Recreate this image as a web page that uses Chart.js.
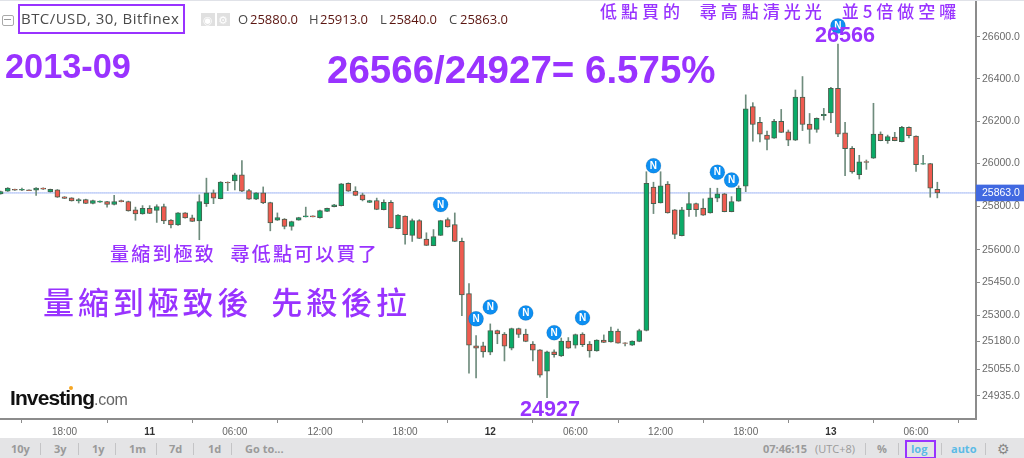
<!DOCTYPE html>
<html>
<head>
<meta charset="utf-8">
<title>BTC/USD, 30, Bitfinex</title>
<script src="https://cdn.jsdelivr.net/npm/chart.js@4/dist/chart.umd.min.js"></script>
<style>
  html, body { margin: 0; padding: 0; background: #fff; overflow: hidden; }
  #wrap { position: relative; width: 1024px; height: 458px; overflow: hidden; font-family: "Liberation Sans", sans-serif; }
  #chart { position: absolute; left: 0; top: 0; }
  .t { position: absolute; white-space: pre; line-height: 1; }
  .big { color: #9933ff; font-weight: bold; }
  .cjk { color: #9933ff; font-family: "Noto Sans CJK TC", sans-serif; font-weight: 500; word-spacing: 8px; }
  .head { font-family: "Open Sans", sans-serif; font-size: 13px; color: #4a4a4a; }
  .val { color: #5b1510; }
  .bar { position: absolute; left: 0; top: 438px; width: 1024px; height: 20px; background: #e4e4e6; }
  .btn { position: absolute; top: 5px; font: bold 11px "Open Sans", sans-serif; color: #9a9a9a; line-height: 1; white-space: pre; }
  .sep { position: absolute; top: 5px; width: 1px; height: 12px; background: #c4c4c6; }
</style>
</head>
<body>
<div id="wrap">
  <canvas id="chart" width="1024" height="458"></canvas>

  <!-- top strip and symbol header -->
  <div style="position:absolute;left:0;top:0;width:1024px;height:1px;background:#e0e2e8"></div>
  <div style="position:absolute;left:2px;top:15px;width:10px;height:9px;border:1px solid #aaa;border-radius:2px"></div>
  <div style="position:absolute;left:4px;top:19px;width:7px;height:1px;background:#999"></div>
  <div style="position:absolute;left:18px;top:4px;width:163px;height:26px;border:2px solid #9933ff"></div>
  <div class="t head" style="left:21px;top:11px;font-size:15px;letter-spacing:.45px">BTC/USD, 30, Bitfinex</div>
  <div style="position:absolute;left:201px;top:13px;width:14px;height:13px;background:#e0e0e0"></div>
  <div style="position:absolute;left:217px;top:13px;width:13px;height:13px;background:#e0e0e0"></div>
  <div class="t" style="left:203px;top:14px;font:11px 'DejaVu Sans';color:#fff">◉</div>
  <div class="t" style="left:218px;top:14px;font:11px 'DejaVu Sans';color:#fff">⚙</div>
  <div class="t head" style="left:238px;top:13px">O</div><div class="t head val" style="left:250px;top:13px">25880.0</div>
  <div class="t head" style="left:309px;top:13px">H</div><div class="t head val" style="left:320px;top:13px">25913.0</div>
  <div class="t head" style="left:380px;top:13px">L</div><div class="t head val" style="left:389px;top:13px">25840.0</div>
  <div class="t head" style="left:449px;top:13px">C</div><div class="t head val" style="left:460px;top:13px">25863.0</div>

  <!-- hand written notes on the picture -->
  <div class="t big" style="left:5px;top:49px;font-size:34.3px">2013-09</div>
  <div class="t big" style="left:327px;top:51px;font-size:38.5px">26566/24927= 6.575%</div>
  <div class="t big" style="left:815px;top:24px;font-size:21.6px">26566</div>
  <div class="t big" style="left:520px;top:398px;font-size:21.6px">24927</div>
  <div class="t cjk" style="left:600px;top:2px;font-size:17px;letter-spacing:4px">低點買的 尋高點清光光 並5倍做空囉</div>
  <div class="t cjk" style="left:110px;top:243px;font-size:19px;letter-spacing:2.2px">量縮到極致 尋低點可以買了</div>
  <div class="t cjk" style="left:43px;top:285px;font-size:31px;letter-spacing:3.9px">量縮到極致後 先殺後拉</div>

  <!-- logo -->
  <div class="t" style="left:10px;top:387px;font-size:21px;font-weight:bold;letter-spacing:-.9px;color:#111">Investing<span style="font-weight:normal;font-size:16px;letter-spacing:-.3px;color:#666">.com</span></div>
  <div style="position:absolute;left:69px;top:386px;width:4px;height:4px;border-radius:2px;background:#f6a623"></div>

  <!-- bottom toolbar -->
  <div class="bar">
    <div class="btn" style="left:11px">10y</div><div class="sep" style="left:40px"></div>
    <div class="btn" style="left:54px">3y</div><div class="sep" style="left:78px"></div>
    <div class="btn" style="left:92px">1y</div><div class="sep" style="left:115px"></div>
    <div class="btn" style="left:129px">1m</div><div class="sep" style="left:156px"></div>
    <div class="btn" style="left:169px">7d</div><div class="sep" style="left:193px"></div>
    <div class="btn" style="left:208px">1d</div><div class="sep" style="left:231px"></div>
    <div class="btn" style="left:245px">Go to...</div>
    <div class="btn" style="left:763px">07:46:15</div>
    <div class="btn" style="left:815px;font-weight:normal">(UTC+8)</div><div class="sep" style="left:865px"></div>
    <div class="btn" style="left:877px">%</div><div class="sep" style="left:898px"></div>
    <div class="btn" style="left:911px;color:#5bbbe6">log</div>
    <div style="position:absolute;left:905px;top:2px;width:27px;height:15px;border:2px solid #9933ff"></div>
    <div class="sep" style="left:941px"></div>
    <div class="btn" style="left:951px;color:#5bbbe6">auto</div><div class="sep" style="left:985px"></div>
    <div class="btn" style="left:997px;font:14px 'DejaVu Sans';top:3px;color:#888">⚙</div>
  </div>
</div>

<script>
// ========================== DATA ==========================
const tickIndexes = [9, 21, 33, 45, 57, 69, 81, 93, 105, 117, 129];
const tickLabels = ["18:00", "11", "06:00", "12:00", "18:00", "12", "06:00", "12:00", "18:00", "13", "06:00"];
const dateLabels = ["11", "12", "13"];
const priceTicks = [26600, 26400, 26200, 26000, 25863, 25800, 25600, 25450, 25300, 25180, 25055, 24935];
const lastPrice = 25863;

// one entry per 30 minute candle
const opens = [25859,25871,25880,25876,25877,25876,25886,25868,25877,25845,25840,25826,25832,25814,25820,25823,25809,25828,25823,25784,25765,25791,25782,25800,25737,25714,25770,25747,25733,25813,25863,25836,25913,25919,25948,25874,25834,25863,25818,25736,25742,25708,25737,25752,25756,25748,25777,25799,25804,25908,25872,25854,25819,25828,25785,25819,25697,25755,25666,25734,25649,25619,25666,25739,25716,25638,25398,25160,25160,25132,25230,25214,25150,25239,25214,25168,25142,25046,25133,25115,25182,25163,25214,25168,25137,25186,25178,25227,25174,25163,25180,25230,25890,25817,25904,25784,25665,25785,25814,25792,25770,25839,25859,25776,25825,25895,26268,26194,26134,26120,26199,26149,26110,26314,26186,26161,26225,26239,26355,26144,26072,25948,26010,26025,26139,26108,26125,26103,26171,26129,25997,26000,25880];
const highs = [25872,25888,25881,25886,25878,25888,25887,25881,25879,25846,25841,25837,25834,25830,25826,25824,25852,25830,25825,25797,25804,25804,25808,25811,25739,25772,25772,25760,25854,25932,25877,25916,25915,25955,26014,25880,25865,25891,25820,25770,25744,25732,25750,25797,25757,25783,25793,25810,25907,25910,25892,25862,25829,25839,25831,25828,25762,25757,25742,25739,25678,25693,25736,25747,25770,25654,25444,25207,25177,25260,25232,25221,25241,25241,25236,25180,25144,25137,25142,25196,25198,25214,25220,25180,25188,25210,25245,25236,25175,25183,25236,25962,25913,25962,25916,25786,25796,25865,25816,25835,25885,25885,25861,25846,25896,26324,26287,26218,26153,26208,26255,26158,26347,26411,26236,26215,26260,26360,26566,26194,26080,26039,26017,26284,26149,26134,26147,26175,26173,26131,26039,26001,25913];
const lows = [25857,25870,25875,25874,25873,25852,25879,25867,25842,25837,25825,25816,25813,25812,25819,25797,25807,25821,25778,25736,25764,25767,25726,25720,25700,25712,25746,25730,25646,25800,25813,25835,25874,25877,25869,25833,25832,25813,25687,25735,25696,25690,25736,25751,25751,25746,25776,25798,25802,25870,25850,25826,25818,25785,25784,25700,25696,25625,25638,25651,25619,25618,25665,25704,25637,25297,25037,25015,25109,25120,25170,25092,25142,25198,25179,25092,25019,24927,25109,25112,25149,25150,25157,25109,25136,25175,25177,25172,25160,25162,25179,25228,25767,25816,25769,25651,25664,25754,25754,25759,25769,25822,25775,25775,25824,25869,26105,26102,26064,26118,26146,26084,26108,26155,26095,26147,26205,26192,26126,25944,25955,25928,25973,26024,26107,26095,26107,26102,26121,25964,25996,25843,25840];
const closes = [25869,25886,25876,25880,25874,25886,25880,25880,25843,25838,25826,25832,25814,25828,25825,25809,25823,25822,25779,25765,25791,25768,25800,25733,25714,25770,25747,25731,25823,25863,25839,25914,25910,25948,25871,25834,25863,25816,25724,25748,25708,25730,25748,25756,25752,25781,25791,25808,25905,25871,25852,25831,25828,25786,25819,25701,25760,25669,25734,25652,25620,25661,25734,25705,25638,25392,25163,25150,25133,25230,25214,25159,25239,25212,25180,25141,25028,25133,25120,25182,25150,25212,25166,25137,25186,25176,25227,25173,25171,25182,25230,25908,25813,25896,25770,25671,25784,25814,25785,25760,25840,25859,25776,25823,25886,26258,26184,26138,26114,26199,26147,26110,26314,26184,26161,26213,26232,26355,26138,26070,25961,26008,26006,26139,26108,26127,26108,26171,26131,25995,26000,25885,25863];

// news markers: candle index and price
const newsIndexes = [62, 67, 69, 74, 78, 82, 92, 101, 103, 118];
const newsPrices = [25809, 25283, 25337, 25310, 25220, 25288, 25990, 25960, 25923, 26653];

// ========================== COLORS ==========================
const upColor = "#0aab68";
const downColor = "#ef5b50";
const isUp = opens.map((o, i) => closes[i] >= o);

// ========================== N LETTER ON MARKERS ==========================
const newsLetters = {
  id: "newsLetters",
  afterDatasetsDraw(chart) {
    const ctx = chart.ctx;
    ctx.save();
    ctx.fillStyle = "#fff";
    ctx.font = "bold 10px 'Liberation Sans'";
    ctx.textAlign = "center";
    ctx.textBaseline = "middle";
    chart.getDatasetMeta(3).data.forEach(p => ctx.fillText("N", p.x, p.y + 0.5));
    ctx.restore();
  }
};

// tick labels would otherwise push the plot area in from the window edges
function noLabelPadding(scale) {
  scale.paddingLeft = 0;
  scale.paddingRight = 0;
  scale.paddingTop = 0;
  scale.paddingBottom = 0;
}

// ========================== CHART ==========================
new Chart(document.getElementById("chart"), {
  type: "bar",
  plugins: [newsLetters],
  data: {
    datasets: [
      {
        type: "line",
        order: 3,
        data: [{ x: -1, y: lastPrice }, { x: 140, y: lastPrice }],
        borderColor: "#3f6be8",
        borderWidth: 1,
        borderDash: [1, 1],
        pointRadius: 0
      },
      {
        order: 2,
        grouped: false,
        barThickness: 1,
        data: highs.map((h, i) => ({ x: i, y: [lows[i], h] })),
        backgroundColor: "#6f8c7d"
      },
      {
        order: 1,
        grouped: false,
        barThickness: 5,
        data: opens.map((o, i) => ({ x: i, y: [o, closes[i]] })),
        backgroundColor: isUp.map(u => (u ? upColor : downColor)),
        borderColor: "#48604f",
        borderWidth: 1,
        borderSkipped: false
      },
      {
        type: "scatter",
        order: 0,
        data: newsIndexes.map((x, i) => ({ x, y: newsPrices[i] })),
        backgroundColor: "#0d8ff2",
        pointRadius: 7.5,
        pointHoverRadius: 7.5
      }
    ]
  },
  options: {
    responsive: false,
    animation: false,
    layout: { autoPadding: false, padding: { top: 2, bottom: 20 } },
    plugins: { legend: { display: false }, tooltip: { enabled: false } },
    scales: {
      x: {
        type: "linear",
        offset: false,
        min: -0.09,
        max: 137.45,
        afterBuildTicks: scale => { scale.ticks = tickIndexes.map(value => ({ value })); },
        afterFit: scale => { scale.height = 19; noLabelPadding(scale); },
        border: { color: "#8c8c8c", width: 2 },
        grid: { drawOnChartArea: false, tickLength: 4, tickColor: "#8c8c8c" },
        ticks: {
          autoSkip: false,
          maxRotation: 0,
          padding: 3,
          callback: value => tickLabels[tickIndexes.indexOf(value)],
          color: ctx => (dateLabels.includes(ctx.tick?.label) ? "#333" : "#666"),
          font: ctx => ({
            family: "'Liberation Sans'",
            size: 10,
            weight: dateLabels.includes(ctx.tick?.label) ? "bold" : "normal"
          })
        }
      },
      y: {
        type: "logarithmic",
        position: "right",
        min: 24831,
        max: 26768,
        afterBuildTicks: scale => { scale.ticks = priceTicks.map(value => ({ value })); },
        afterFit: scale => { scale.width = 48; noLabelPadding(scale); },
        border: { color: "#8c8c8c", width: 2 },
        grid: { drawOnChartArea: false, tickLength: 4, tickColor: "#8c8c8c" },
        ticks: {
          autoSkip: false,
          padding: 2,
          font: { family: "'Liberation Sans'", size: 10.5 },
          callback: value => value.toFixed(1),
          color: ctx => (ctx.tick?.value === lastPrice ? "#fff" : "#6b6b6b"),
          showLabelBackdrop: ctx => ctx.tick?.value === lastPrice,
          backdropColor: "#4169e1",
          backdropPadding: { x: 6, y: 2 }
        }
      }
    }
  }
});
</script>
</body>
</html>
